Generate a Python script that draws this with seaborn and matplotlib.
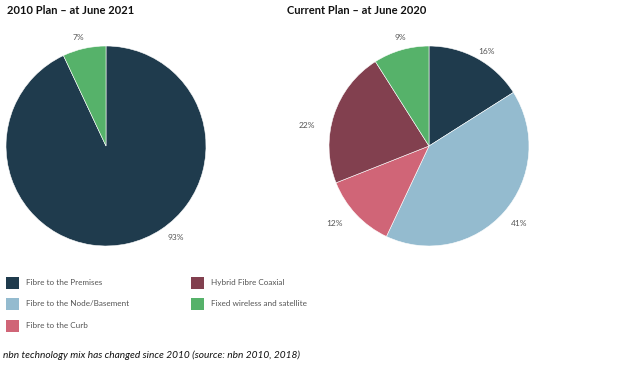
import matplotlib
matplotlib.use("Agg")
import matplotlib.pyplot as plt
import seaborn as sns
from matplotlib.patches import Rectangle

sns.set_theme(style="white")
plt.rcParams['font.family'] = ['Lato', 'DejaVu Sans']

categories = ["Fibre to the Premises", "Fibre to the Node/Basement", "Fibre to the Curb",
              "Hybrid Fibre Coaxial", "Fixed wireless and satellite"]
colors = ["#1F3B4D", "#94BBCF", "#D06577", "#82404F", "#56B26A"]
plan2010 = [93, 0, 0, 0, 7]
plan2020 = [16, 41, 12, 22, 9]
titles = ["2010 Plan \u2013 at June 2021", "Current Plan \u2013 at June 2020"]

# label placement (in pie-radius units), one per non-zero slice
label_xy_2010 = [(0.695, -0.92), (-0.28, 1.09)]
label_xy_2020 = [(0.58, 0.95), (0.90, -0.77), (-0.94, -0.77), (-1.225, 0.20), (-0.29, 1.09)]

W, H = 636, 365
fig = plt.figure(figsize=(W / 100, H / 100), dpi=100)

def px_axes(cx, cy, r):
    return fig.add_axes([(cx - r) / W, (H - cy - r) / H, 2 * r / W, 2 * r / H])

def draw_pie(ax, values, label_xy):
    vals = [v for v in values if v > 0]
    cols = [c for v, c in zip(values, colors) if v > 0]
    wedges, texts = ax.pie(vals, colors=cols, startangle=90, counterclock=False,
                           labels=[f"{v}%" for v in vals], labeldistance=1.12,
                           wedgeprops=dict(linewidth=0.4, edgecolor="white"),
                           textprops=dict(fontsize=6, color="#555555"))
    for t, xy in zip(texts, label_xy):
        t.set_position(xy)
        t.set_ha("center")
        t.set_va("center")
    ax.set_xlim(-1, 1)
    ax.set_ylim(-1, 1)
    ax.set_aspect("equal")
    ax.axis("off")

ax1 = px_axes(106, 146, 100)
draw_pie(ax1, plan2010, label_xy_2010)
ax2 = px_axes(429, 146, 100)
draw_pie(ax2, plan2020, label_xy_2020)

fig.text(7 / W, 1 - 11 / H, titles[0], fontsize=8, fontweight="bold", color="#111111", va="center", ha="left")
fig.text(287 / W, 1 - 11 / H, titles[1], fontsize=8, fontweight="bold", color="#111111", va="center", ha="left")

# legend
legend_pos = [(6, 282.5), (6, 304), (6, 325.5), (191, 282.5), (191, 304)]
for (x, y), cat, col in zip(legend_pos, categories, colors):
    fig.patches.append(Rectangle(((x) / W, (H - y - 6) / H), 13 / W, 12 / H,
                                 transform=fig.transFigure, facecolor=col, edgecolor="none"))
    fig.text((x + 20) / W, 1 - y / H, cat, fontsize=5.9, color="#555555", va="center", ha="left")

fig.text(3 / W, 1 - 355 / H, "nbn technology mix has changed since 2010 (source: nbn 2010, 2018)",
         fontsize=7.3, style="italic", color="#111111", va="center", ha="left")

fig.savefig("out.png", dpi=100, facecolor="white")
